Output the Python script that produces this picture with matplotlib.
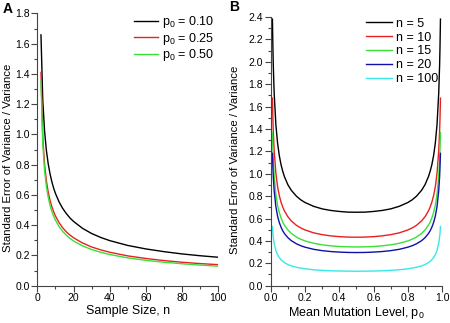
import matplotlib
matplotlib.use("Agg")
import matplotlib.pyplot as plt
from matplotlib.ticker import MultipleLocator, FormatStrFormatter

plt.rcParams['font.family'] = ['Liberation Sans', 'DejaVu Sans']
plt.rcParams['mathtext.default'] = 'regular'

# panel A: standard error of variance / variance vs sample size
n_vals = [2, 3, 4, 5, 6, 7, 8, 9, 10, 12, 14, 16, 18, 20, 25, 30, 35, 40,
          50, 60, 70, 80, 90, 100]
se_p010 = [1.658, 1.225, 1.021, 0.894, 0.806, 0.740, 0.688, 0.645, 0.610,
           0.554, 0.511, 0.477, 0.448, 0.425, 0.379, 0.345, 0.319, 0.298,
           0.266, 0.243, 0.225, 0.210, 0.198, 0.188]
se_p025 = [1.410, 0.983, 0.801, 0.693, 0.619, 0.565, 0.523, 0.489, 0.461,
           0.417, 0.383, 0.356, 0.335, 0.317, 0.282, 0.256, 0.237, 0.221,
           0.197, 0.180, 0.166, 0.155, 0.146, 0.139]
se_p050 = [1.351, 0.940, 0.761, 0.656, 0.585, 0.532, 0.492, 0.459, 0.433,
           0.391, 0.359, 0.334, 0.313, 0.296, 0.263, 0.239, 0.221, 0.206,
           0.184, 0.168, 0.155, 0.145, 0.136, 0.129]
labels_a = ['p$_0$ = 0.10', 'p$_0$ = 0.25', 'p$_0$ = 0.50']

# panel B: vs mean mutation level
p_vals = [0.01, 0.0125, 0.015, 0.02, 0.03, 0.04, 0.05, 0.06, 0.07, 0.08,
          0.1, 0.12, 0.15, 0.175, 0.2, 0.25, 0.3, 0.35, 0.4, 0.45, 0.5,
          0.55, 0.6, 0.65, 0.7, 0.75, 0.8, 0.825, 0.85, 0.88, 0.9, 0.92,
          0.93, 0.94, 0.95, 0.96, 0.97, 0.98, 0.985, 0.9875, 0.99]
se_n5 = [2.381, 2.142, 1.967, 1.723, 1.439, 1.273, 1.162, 1.082, 1.022, 0.974,
         0.902, 0.852, 0.799, 0.767, 0.743, 0.709, 0.686, 0.672, 0.663, 0.657,
         0.656,
         0.657, 0.663, 0.672, 0.686, 0.709, 0.743, 0.767, 0.799, 0.852, 0.902,
         0.974, 1.022, 1.082, 1.162, 1.273, 1.439, 1.723, 1.967, 2.142, 2.381]
se_n10 = [1.675, 1.505, 1.381, 1.207, 1.004, 0.884, 0.804, 0.747, 0.703, 0.668,
          0.616, 0.579, 0.539, 0.516, 0.498, 0.472, 0.456, 0.445, 0.438, 0.434,
          0.433,
          0.434, 0.438, 0.445, 0.456, 0.472, 0.498, 0.516, 0.539, 0.579, 0.616,
          0.668, 0.703, 0.747, 0.804, 0.884, 1.004, 1.207, 1.381, 1.505, 1.675]
se_n15 = [1.366, 1.227, 1.125, 0.983, 0.816, 0.718, 0.653, 0.606, 0.569, 0.540,
          0.498, 0.467, 0.434, 0.415, 0.400, 0.379, 0.365, 0.356, 0.350, 0.347,
          0.346,
          0.347, 0.350, 0.356, 0.365, 0.379, 0.400, 0.415, 0.434, 0.467, 0.498,
          0.540, 0.569, 0.606, 0.653, 0.718, 0.816, 0.983, 1.125, 1.227, 1.366]
se_n20 = [1.182, 1.062, 0.973, 0.850, 0.706, 0.621, 0.564, 0.523, 0.491, 0.466,
          0.429, 0.402, 0.374, 0.357, 0.344, 0.325, 0.313, 0.305, 0.300, 0.297,
          0.296,
          0.297, 0.300, 0.305, 0.313, 0.325, 0.344, 0.357, 0.374, 0.402, 0.429,
          0.466, 0.491, 0.523, 0.564, 0.621, 0.706, 0.850, 0.973, 1.062, 1.182]
se_n100 = [0.528, 0.474, 0.434, 0.379, 0.314, 0.276, 0.250, 0.232, 0.218, 0.206,
           0.189, 0.177, 0.165, 0.157, 0.151, 0.142, 0.137, 0.133, 0.131, 0.130,
           0.129,
           0.130, 0.131, 0.133, 0.137, 0.142, 0.151, 0.157, 0.165, 0.177, 0.189,
           0.206, 0.218, 0.232, 0.250, 0.276, 0.314, 0.379, 0.434, 0.474, 0.528]
labels_b = ['n = 5', 'n = 10', 'n = 15', 'n = 20', 'n = 100']

fig = plt.figure(figsize=(4.5, 3.23), dpi=100)
axA = fig.add_axes([0.083, 0.1155, 0.402, 0.843])
axB = fig.add_axes([0.6016, 0.1155, 0.381, 0.832])

cols_a = ['black', '#e82020', '#38e038']
for ys, c, lab in zip([se_p010, se_p025, se_p050], cols_a, labels_a):
    axA.plot(n_vals, ys, color=c, lw=1.0, label=lab)

cols_b = ['black', '#e82020', '#38e038', '#1010a8', '#38e8e8']
for ys, c, lab in zip([se_n5, se_n10, se_n15, se_n20, se_n100], cols_b, labels_b):
    axB.plot(p_vals, ys, color=c, lw=1.0, label=lab)

def style(ax, xmaj, xmin_, ymaj, ymin_):
    for s in ['top', 'right']:
        ax.spines[s].set_visible(False)
    for s in ['left', 'bottom']:
        ax.spines[s].set_color('#444444')
        ax.spines[s].set_linewidth(0.8)
    ax.xaxis.set_major_locator(MultipleLocator(xmaj))
    ax.xaxis.set_minor_locator(MultipleLocator(xmin_))
    ax.yaxis.set_major_locator(MultipleLocator(ymaj))
    ax.yaxis.set_minor_locator(MultipleLocator(ymin_))
    ax.tick_params(which='major', direction='out', length=4, width=0.8,
                   color='#444444', labelsize=7.5, pad=1.5)
    ax.tick_params(which='minor', direction='out', length=2, width=0.8,
                   color='#444444')
    ax.yaxis.set_major_formatter(FormatStrFormatter('%.1f'))
    ax.set_ylabel('Standard Error of Variance / Variance', fontsize=8.2)

style(axA, 20, 10, 0.2, 0.1)
axA.set_xlim(0, 100)
axA.set_ylim(0, 1.8)
axA.set_xlabel('Sample Size, n', fontsize=9, labelpad=1)
axA.yaxis.set_label_coords(-0.132, 0.47)

style(axB, 0.2, 0.1, 0.2, 0.1)
axB.set_xlim(0, 1.0)
axB.set_ylim(0, 2.4)
axB.xaxis.set_major_formatter(FormatStrFormatter('%.1f'))
axB.set_xlabel('Mean Mutation Level, p$_0$', fontsize=9, labelpad=1)
axB.yaxis.set_label_coords(-0.178, 0.47)

axA.legend(loc='upper right', bbox_to_anchor=(1.02, 1.025), frameon=False,
           fontsize=9, handlelength=1.9, handletextpad=0.3, labelspacing=0.05,
           borderaxespad=0.2)
axB.legend(loc='upper right', bbox_to_anchor=(1.018, 1.025), frameon=False,
           fontsize=9, handlelength=2.1, handletextpad=0.3, labelspacing=0.15,
           borderaxespad=0.2)

fig.text(0.018, 0.972, 'A', fontsize=10, fontweight='bold', ha='center', va='center')
fig.text(0.52, 0.978, 'B', fontsize=10, fontweight='bold', ha='center', va='center')

fig.savefig('out.png', dpi=100)
